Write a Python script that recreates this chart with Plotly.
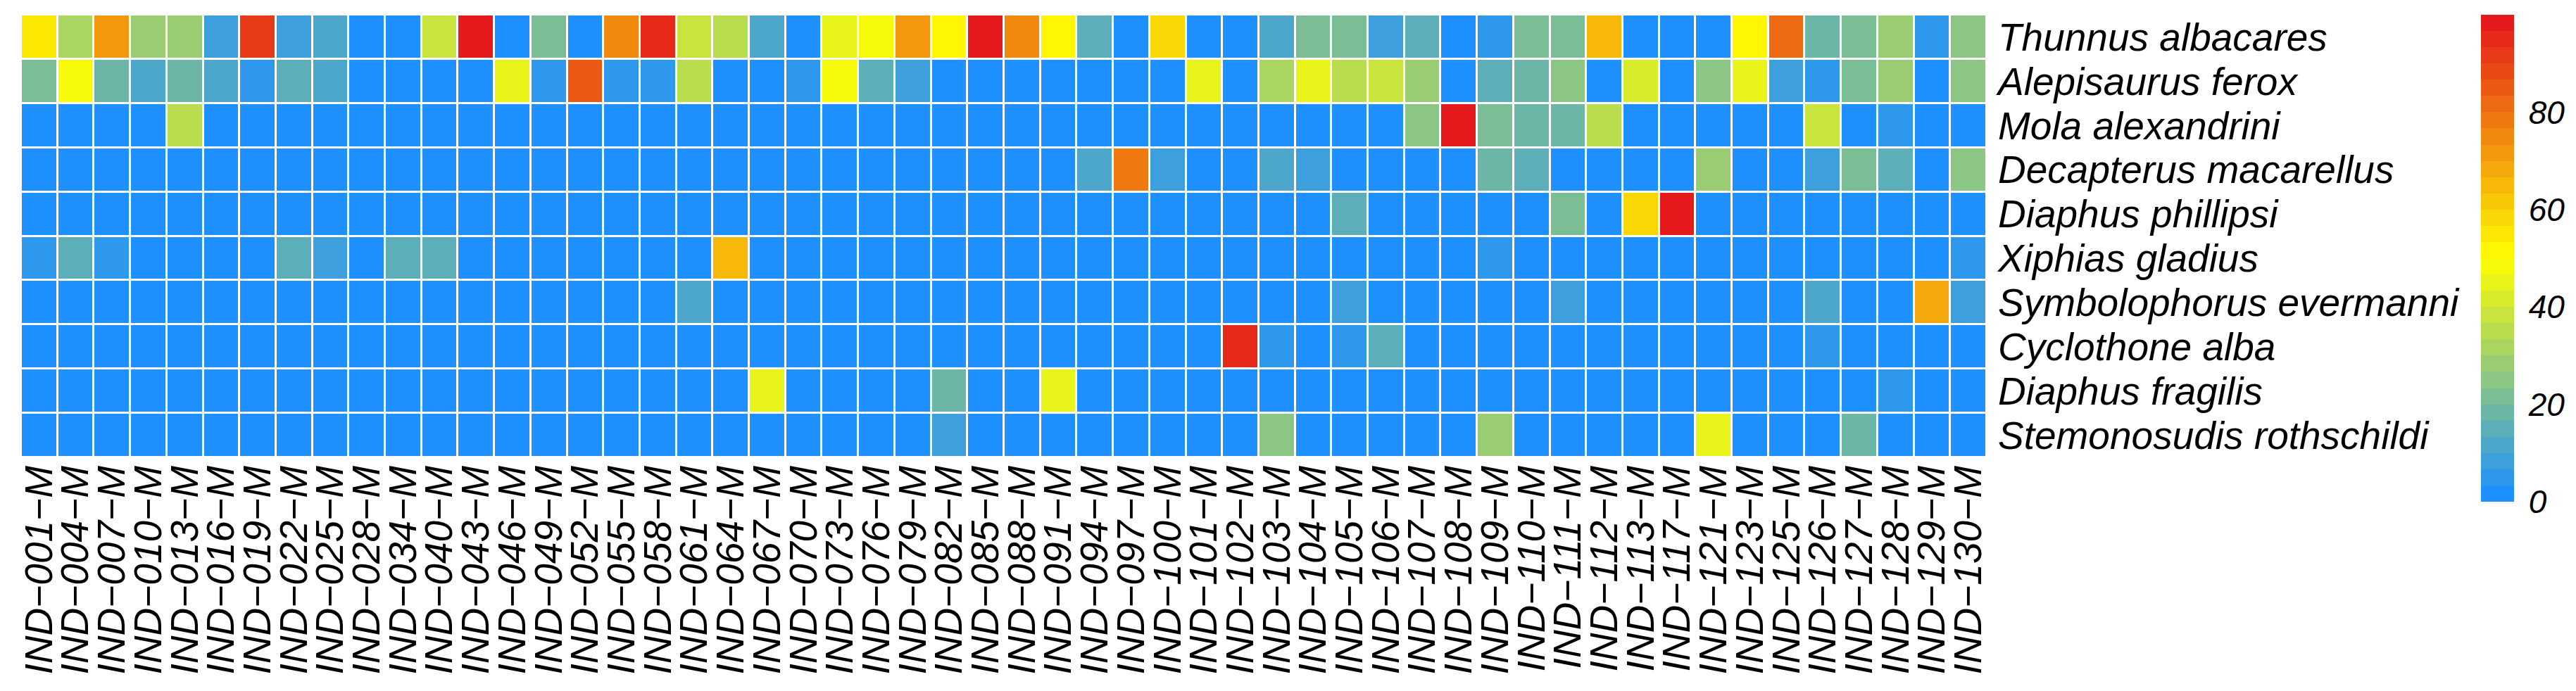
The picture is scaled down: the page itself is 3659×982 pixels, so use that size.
import plotly.graph_objects as go

individuals = ['001', '004', '007', '010', '013', '016', '019', '022', '025', '028', '034', '040', '043', '046',
               '049', '052', '055', '058', '061', '064', '067', '070', '073', '076', '079', '082', '085', '088',
               '091', '094', '097', '100', '101', '102', '103', '104', '105', '106', '107', '108', '109', '110',
               '111', '112', '113', '117', '121', '123', '125', '126', '127', '128', '129', '130']
species = ['Thunnus albacares', 'Alepisaurus ferox', 'Mola alexandrini', 'Decapterus macarellus',
           'Diaphus phillipsi', 'Xiphias gladius', 'Symbolophorus evermanni', 'Cyclothone alba',
           'Diaphus fragilis', 'Stemonosudis rothschildi']

thunnus = [56, 32, 71, 29, 29, 7, 91, 7, 11, 0, 0, 38, 98, 0, 21, 0, 75, 94, 38, 36, 11, 0, 45, 48, 71, 52, 98,
           75, 52, 14, 0, 58, 0, 0, 11, 21, 21, 7, 14, 0, 4, 21, 21, 65, 0, 0, 0, 52, 81, 17, 21, 29, 4, 25]
alepisaurus = [21, 48, 17, 11, 17, 11, 4, 14, 11, 0, 0, 0, 0, 45, 4, 85, 4, 4, 36, 0, 0, 4, 48, 14, 7, 0, 0,
               0, 0, 0, 0, 0, 45, 0, 32, 45, 36, 38, 29, 0, 14, 17, 25, 0, 42, 0, 25, 45, 7, 4, 21, 29, 0, 25]
mola = [0, 0, 0, 0, 36, 0, 0, 0, 0, 0, 0, 0, 0, 0, 0, 0, 0, 0, 0, 0, 0, 0, 0, 0, 0, 0, 0,
        0, 0, 0, 0, 0, 0, 0, 0, 0, 0, 0, 25, 98, 21, 17, 17, 36, 0, 0, 0, 0, 0, 38, 0, 4, 0, 0]
decapterus = [0, 0, 0, 0, 0, 0, 0, 0, 0, 0, 0, 0, 0, 0, 0, 0, 0, 0, 0, 0, 0, 0, 0, 0, 0, 0, 0,
              0, 0, 11, 78, 7, 0, 0, 11, 7, 0, 0, 0, 0, 17, 14, 0, 0, 0, 0, 29, 0, 0, 7, 21, 14, 0, 25]
phillipsi = [0, 0, 0, 0, 0, 0, 0, 0, 0, 0, 0, 0, 0, 0, 0, 0, 0, 0, 0, 0, 0, 0, 0, 0, 0, 0, 0,
             0, 0, 0, 0, 0, 0, 0, 0, 0, 14, 0, 0, 0, 0, 0, 21, 0, 58, 98, 0, 0, 0, 0, 0, 0, 0, 0]
xiphias = [4, 14, 4, 0, 0, 0, 0, 14, 7, 0, 14, 14, 0, 0, 0, 0, 0, 0, 0, 65, 0, 0, 0, 0, 0, 0, 0,
           0, 0, 0, 0, 0, 0, 0, 0, 0, 0, 0, 0, 0, 4, 0, 0, 0, 0, 0, 0, 0, 0, 0, 0, 0, 0, 4]
symbolophorus = [0, 0, 0, 0, 0, 0, 0, 0, 0, 0, 0, 0, 0, 0, 0, 0, 0, 0, 11, 0, 0, 0, 0, 0, 0, 0, 0,
                 0, 0, 0, 0, 0, 0, 0, 0, 0, 7, 0, 0, 0, 0, 0, 7, 0, 0, 0, 0, 0, 0, 11, 0, 0, 68, 7]
cyclothone = [0, 0, 0, 0, 0, 0, 0, 0, 0, 0, 0, 0, 0, 0, 0, 0, 0, 0, 0, 0, 0, 0, 0, 0, 0, 0, 0,
              0, 0, 0, 0, 0, 0, 94, 4, 0, 4, 14, 0, 0, 0, 0, 0, 0, 0, 0, 0, 0, 0, 4, 0, 0, 0, 0]
fragilis = [0, 0, 0, 0, 0, 0, 0, 0, 0, 0, 0, 0, 0, 0, 0, 0, 0, 0, 0, 0, 45, 0, 0, 0, 0, 17, 0,
            0, 45, 0, 0, 0, 0, 0, 0, 0, 0, 0, 0, 0, 0, 0, 0, 0, 0, 0, 0, 0, 0, 0, 0, 4, 0, 0]
stemonosudis = [0, 0, 0, 0, 0, 0, 0, 0, 0, 0, 0, 0, 0, 0, 0, 0, 0, 0, 0, 0, 0, 0, 0, 0, 0, 7, 0,
                0, 0, 0, 0, 0, 0, 0, 25, 0, 0, 0, 0, 0, 29, 0, 0, 0, 0, 0, 45, 0, 0, 0, 17, 0, 0, 0]

abundance = [thunnus, alepisaurus, mola, decapterus, phillipsi, xiphias, symbolophorus, cyclothone, fragilis,
             stemonosudis]
labels = [f'IND\u2212{i}\u2212M' for i in individuals]
colorbar_ticks = [0, 20, 40, 60, 80]

N_BANDS = 30
LOW, MID, HIGH = (30, 144, 255), (255, 255, 0), (228, 26, 28)
WIDTH, HEIGHT = 3659, 982
FONT = dict(family='Liberation Sans', size=55, color='black', style='italic')
BAR_FONT = dict(family='Liberation Sans', size=46, color='black', style='italic')
# the page body adds 8px on the left and top
LEFT, RIGHT, TOP, BOTTOM = 22, 2814, 13, 642


def band_color(i):
    t = i / (N_BANDS - 1)
    if t < 0.5:
        a, b, f = LOW, MID, t * 2
    else:
        a, b, f = MID, HIGH, (t - 0.5) * 2
    return 'rgb(%d,%d,%d)' % tuple(round(p + (q - p) * f) for p, q in zip(a, b))


# stepped scale, the legend shows separate bands
colorscale = []
for i in range(N_BANDS):
    colorscale.append([i / N_BANDS, band_color(i)])
    colorscale.append([(i + 1) / N_BANDS, band_color(i)])

fig = go.Figure(go.Heatmap(
    z=abundance, x=labels, y=species,
    zmin=0, zmax=100, colorscale=colorscale,
    xgap=3, ygap=3,
    colorbar=dict(
        x=(3516 - LEFT) / (RIGHT - LEFT), xanchor='left',
        y=(BOTTOM - 705) / (BOTTOM - TOP), yanchor='bottom',
        lenmode='pixels', len=692, thicknessmode='pixels', thickness=47,
        xpad=0, ypad=0, outlinewidth=0, tickvals=colorbar_ticks,
        ticks='outside', ticklen=12, tickcolor='white', tickfont=BAR_FONT,
    ),
))
fig.update_layout(
    width=WIDTH, height=HEIGHT, autosize=False,
    plot_bgcolor='white', paper_bgcolor='white',
    margin=dict(l=LEFT, r=WIDTH - RIGHT, t=TOP, b=HEIGHT - BOTTOM, pad=0),
)
fig.update_xaxes(type='category', tickmode='array', tickvals=labels, ticktext=labels, tickangle=-90, tickfont=FONT,
                 ticks='', showgrid=False, zeroline=False, showline=False, automargin=False)
fig.update_yaxes(type='category', tickmode='array', tickvals=species, ticktext=species, side='right',
                 autorange='reversed', tickfont=FONT, ticks='outside', ticklen=4,
                 tickcolor='white', showgrid=False, zeroline=False, showline=False, automargin=False)
fig.write_html("out.html")
